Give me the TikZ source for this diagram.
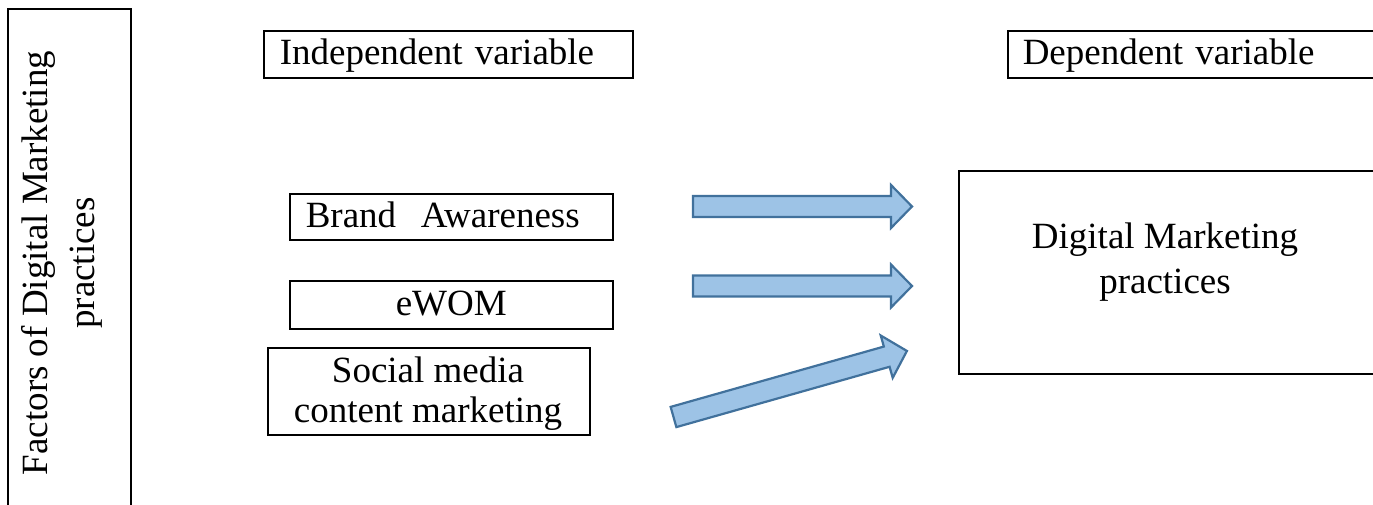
\documentclass[tikz,border=0pt]{standalone}
\usepackage{fontspec}
\setmainfont{Liberation Serif}
\newfontfamily\tnr{Liberation Serif}
\definecolor{afill}{HTML}{9DC3E6}
\definecolor{aline}{HTML}{41719C}
\begin{document}
\begin{tikzpicture}[x=1pt,y=-1pt,
  box/.style={draw, line width=1.5pt, inner ysep=0pt, anchor=north west},
  lbl/.style={font=\tnr\fontsize{37}{43}\selectfont},
  one/.style={text height=26pt, text depth=5pt},
  barrow/.style={draw=aline, fill=afill, line width=2.2pt, line join=miter}]
\useasboundingbox (0,0) rectangle (1373,504);
% left vertical box
\node[box, minimum width=123, minimum height=520] (factors) at (7,8) {};
\node[rotate=90, align=center, font=\tnr\fontsize{37}{47}\selectfont] (factorsl) at (62,263) {Factors of Digital Marketing\\practices};
% header boxes
\node[box, lbl, one, minimum width=369, minimum height=47, inner xsep=16pt, text width=337pt, align=left] (iv) at (263,30) {Independent variable};
\node[box, lbl, one, minimum width=383, minimum height=47, inner xsep=15pt, text width=353pt, align=left] (dv) at (1007,30) {Dependent variable};
% independent variables
\node[box, lbl, one, minimum width=323, minimum height=46, inner xsep=16pt, text width=291pt, align=left] (brand) at (289,193) {Brand\ \ Awareness};
\node[box, lbl, one, minimum width=323, minimum height=48, inner xsep=16pt, text width=291pt, align=center] (ewom) at (289,280) {eWOM};
\node[box, minimum width=322, minimum height=87] (social) at (267,347) {};
\node[align=center, font=\tnr\fontsize{37}{40}\selectfont] (sociall) at (428,393.5) {Social media\\content marketing};
% dependent variable
\node[box, minimum width=432, minimum height=203] (dmp) at (958,170) {};
\node[align=center, font=\tnr\fontsize{37}{45}\selectfont] (dmpl) at (1165,262) {Digital Marketing\\practices};
% block arrows
\begin{scope}[shift={(693,206.5)}]
  \coordinate (a1tail) at (0,0); \coordinate (a1tip) at (219,0);
  \draw[barrow] (a1tail) ++(0,-10.5) -- (198,-10.5) -- (198,-21.5) -- (a1tip) -- (198,21.5) -- (198,10.5) -- (0,10.5) -- cycle;
\end{scope}
\begin{scope}[shift={(693,286)}]
  \coordinate (a2tail) at (0,0); \coordinate (a2tip) at (219,0);
  \draw[barrow] (a2tail) ++(0,-10.5) -- (198,-10.5) -- (198,-21.5) -- (a2tip) -- (198,21.5) -- (198,10.5) -- (0,10.5) -- cycle;
\end{scope}
\begin{scope}[shift={(673.5,417)}, rotate=15.8]
  \coordinate (a3tail) at (0,0); \coordinate (a3tip) at (242.6,0);
  \draw[barrow] (a3tail) ++(0,-10.5) -- (221.6,-10.5) -- (221.6,-22) -- (a3tip) -- (221.6,22) -- (221.6,10.5) -- (0,10.5) -- cycle;
\end{scope}
\end{tikzpicture}
\end{document}
